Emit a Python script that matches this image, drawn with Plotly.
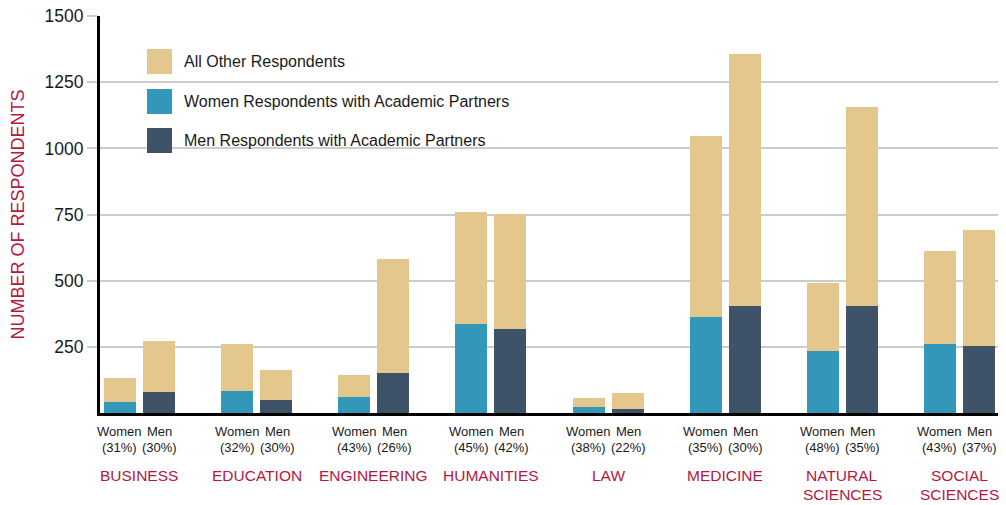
import plotly.graph_objects as go

# ---------------- data ----------------
categories = ["BUSINESS", "EDUCATION", "ENGINEERING", "HUMANITIES", "LAW",
              "MEDICINE", "NATURAL\nSCIENCES", "SOCIAL\nSCIENCES"]
women_total = [133, 259, 142, 758, 58, 1048, 493, 614]
women_ap = [41, 83, 61, 338, 22, 364, 236, 262]
men_total = [274, 164, 583, 753, 74, 1357, 1157, 693]
men_ap = [80, 49, 152, 316, 16, 403, 406, 255]
women_pct = ["(31%)", "(32%)", "(43%)", "(45%)", "(38%)", "(35%)", "(48%)", "(43%)"]
men_pct = ["(30%)", "(30%)", "(26%)", "(42%)", "(22%)", "(30%)", "(35%)", "(37%)"]
y_ticks = [250, 500, 750, 1000, 1250, 1500]
legend_labels = ["All Other Respondents",
                 "Women Respondents with Academic Partners",
                 "Men Respondents with Academic Partners"]

# ---------------- style ----------------
TAN = "#e4c78d"
BLUE = "#3397ba"
DARK = "#3e5268"
CRIMSON = "#b5173f"
TEXT = "#1a1a1a"
FONT = "Liberation Sans, Arial, Helvetica, sans-serif"

OFF = 0.1665
BW = 0.273

idx = list(range(len(categories)))
xw = [i - OFF for i in idx]
xm = [i + OFF for i in idx]
women_other = [t - a for t, a in zip(women_total, women_ap)]
men_other = [t - a for t, a in zip(men_total, men_ap)]

fig = go.Figure()
fig.add_trace(go.Bar(x=xw, y=women_ap, width=BW, marker=dict(color=BLUE, line=dict(width=0)),
                     name=legend_labels[1]))
fig.add_trace(go.Bar(x=xm, y=men_ap, width=BW, marker=dict(color=DARK, line=dict(width=0)),
                     name=legend_labels[2]))
fig.add_trace(go.Bar(x=xw + xm, y=women_other + men_other, width=BW,
                     marker=dict(color=TAN, line=dict(width=0)), name=legend_labels[0]))

SMALL = dict(size=13, color=TEXT, family=FONT)
annotations = []
for i in idx:
    annotations.append(dict(x=xw[i], y=0, xref="x", yref="paper", text="Women", showarrow=False,
                            xanchor="center", yanchor="middle", yshift=-18, font=SMALL))
    annotations.append(dict(x=xm[i], y=0, xref="x", yref="paper", text="Men", showarrow=False,
                            xanchor="center", yanchor="middle", yshift=-18, xshift=1, font=SMALL))
    annotations.append(dict(x=xw[i], y=0, xref="x", yref="paper", text=women_pct[i], showarrow=False,
                            xanchor="center", yanchor="middle", yshift=-34.5, font=SMALL))
    annotations.append(dict(x=xm[i], y=0, xref="x", yref="paper", text=men_pct[i], showarrow=False,
                            xanchor="center", yanchor="middle", yshift=-34.5, xshift=1, font=SMALL))
    for k, line in enumerate(categories[i].split("\n")):
        annotations.append(dict(x=i, y=0, xref="x", yref="paper", text=line, showarrow=False,
                                xanchor="center", yanchor="middle", yshift=-62 - 19 * k,
                                font=dict(size=15.5, color=CRIMSON, family=FONT)))

# y-axis title
annotations.append(dict(x=0, y=0.5, xref="paper", yref="paper", text="NUMBER OF RESPONDENTS",
                        textangle=-90, showarrow=False, xanchor="center", yanchor="middle",
                        xshift=-83, font=dict(size=18, color=CRIMSON, family=FONT)))

# custom legend
shapes = []
legend_colors = [TAN, BLUE, DARK]
legend_centers = [45.5, 85.5, 124.5]  # px below plot top
for lab, col, c in zip(legend_labels, legend_colors, legend_centers):
    shapes.append(dict(type="rect", xref="paper", yref="paper", xsizemode="pixel", ysizemode="pixel",
                       xanchor=0, yanchor=1, x0=47, x1=72, y0=-(c - 12.5), y1=-(c + 12.5),
                       fillcolor=col, line=dict(width=0), layer="above"))
    annotations.append(dict(x=0, y=1, xref="paper", yref="paper", text=lab, showarrow=False,
                            xanchor="left", yanchor="middle", xshift=82, yshift=-c,
                            font=dict(size=16, color=TEXT, family=FONT)))

fig.update_layout(
    width=1006, height=505,
    margin=dict(l=100, r=8, t=16, b=91.5),
    paper_bgcolor="white", plot_bgcolor="white",
    barmode="stack", bargap=0,
    showlegend=False,
    font=dict(family=FONT, color=TEXT),
    annotations=annotations,
    shapes=shapes,
    xaxis=dict(range=[-0.337, 7.329], showticklabels=False, ticks="", showgrid=False,
               zeroline=False, showline=True, linecolor="black", linewidth=3, fixedrange=True,
               automargin=False),
    yaxis=dict(range=[0, 1500.5], tickvals=y_ticks, ticks="outside", ticklen=10, tickwidth=2,
               tickcolor="#cccccc", showgrid=True, gridcolor="#cccccc", gridwidth=2,
               zeroline=False, showline=True, linecolor="black", linewidth=3,
               ticklabeloverflow="allow", automargin=False,
               tickfont=dict(size=17.5, color=TEXT, family=FONT), fixedrange=True),
)

# remove the default 8px page margin so the figure sits at the top-left corner
fig.write_html("out.html", config={"displayModeBar": False},
               post_script="document.body.style.margin='0';")
